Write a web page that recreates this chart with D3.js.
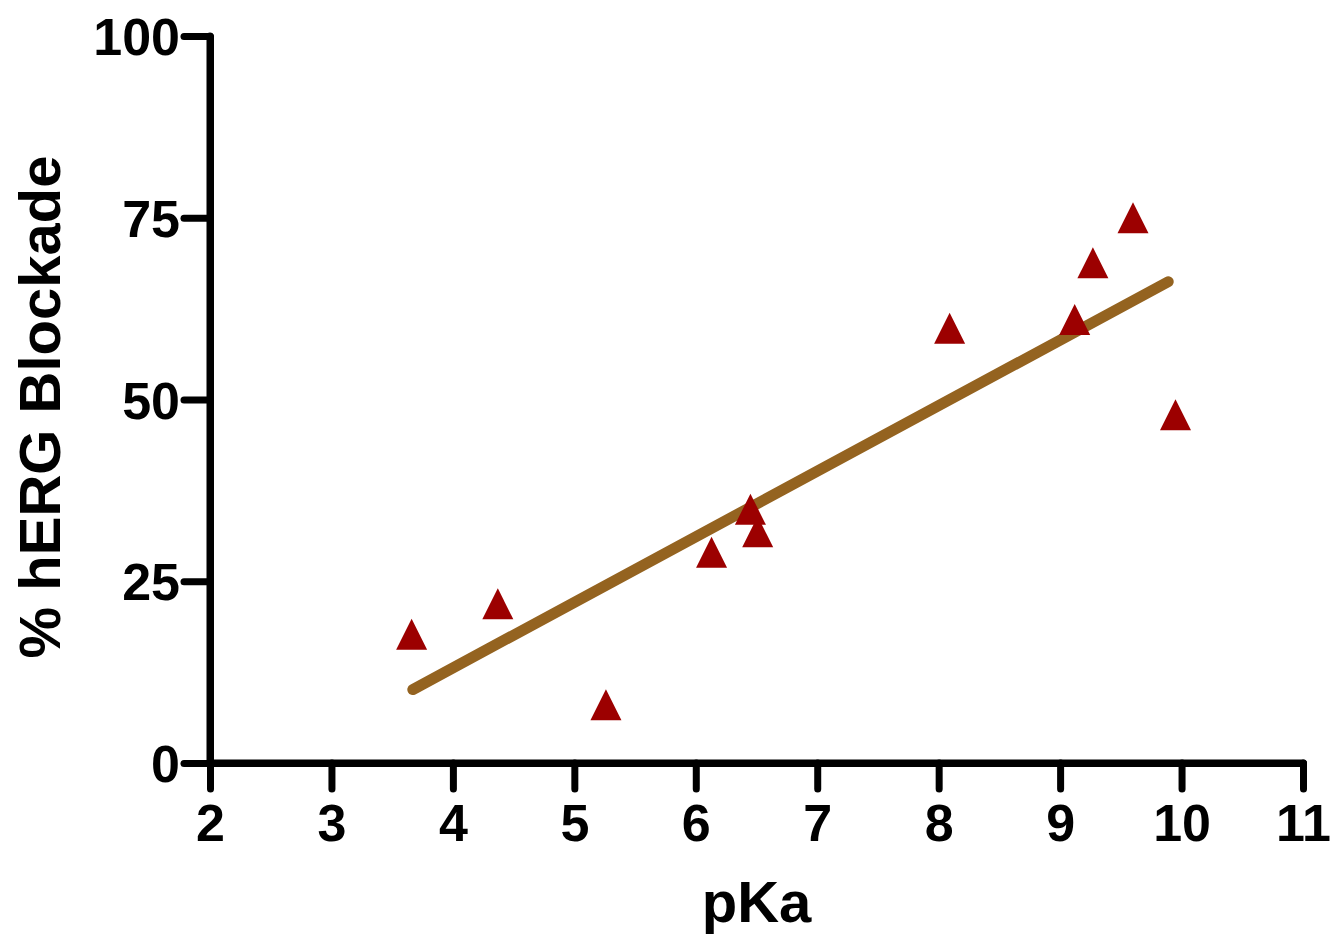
<!DOCTYPE html>
<html>
<head>
<meta charset="utf-8">
<script src="https://cdn.jsdelivr.net/npm/d3@7"></script>
<style>
  html, body { margin: 0; padding: 0; background: #fff; }
  svg { display: block; font-family: "Liberation Sans", Arial, sans-serif; font-weight: bold; }
</style>
</head>
<body>
<svg id="chart" width="1334" height="940"></svg>
<script>
// pKa vs % hERG blockade
const pKa      = [3.66, 4.37, 5.26, 6.13, 6.45, 6.51, 8.09, 9.12, 9.27, 9.60, 9.95];
const blockade = [17.7, 21.9, 8.0, 29.0, 34.9, 31.8, 59.8, 61.0, 68.8, 75.0, 47.9];
const fitLine  = [[3.67, 10.1], [9.89, 66.2]];   // regression line endpoints
const xTicks = [2, 3, 4, 5, 6, 7, 8, 9, 10, 11];
const yTicks = [0, 25, 50, 75, 100];

const margin = { left: 210, top: 36, right: 31, bottom: 177 };
const W = 1334, H = 940;
const innerW = W - margin.left - margin.right;
const innerH = H - margin.top - margin.bottom;

const svg = d3.select("#chart");
const g = svg.append("g").attr("transform", `translate(${margin.left},${margin.top})`);

const x = d3.scaleLinear().domain([2, 11]).range([0, innerW]);
const y = d3.scaleLinear().domain([0, 100]).range([innerH, 0]);

// Axes
const axisStroke = 7;
const xAxis = g.append("g")
  .attr("transform", `translate(0,${innerH})`)
  .call(d3.axisBottom(x).tickValues(xTicks).tickSize(26).tickPadding(15).tickSizeOuter(0));
const yAxis = g.append("g")
  .call(d3.axisLeft(y).tickValues(yTicks).tickSize(26).tickPadding(4).tickSizeOuter(0));

[xAxis, yAxis].forEach(ax => {
  ax.select(".domain").attr("stroke", "#000").attr("stroke-width", axisStroke)
    .attr("stroke-linecap", "round");
  ax.selectAll(".tick line").attr("stroke", "#000").attr("stroke-width", axisStroke)
    .attr("stroke-linecap", "round");
  ax.selectAll(".tick text").attr("fill", "#000")
    .style("font-size", "52px").style("font-weight", "bold")
    .style("font-family", "'Liberation Sans', Arial, sans-serif");
});
xAxis.selectAll(".tick text").attr("dy", "0.71em");
yAxis.selectAll(".tick text").attr("dy", "0.36em");

// join the axis corners so the outer line looks continuous
g.append("path")
  .attr("d", `M${x(11)},${innerH}H0V0`)
  .attr("fill", "none").attr("stroke", "#000").attr("stroke-width", axisStroke)
  .attr("stroke-linejoin", "round").attr("stroke-linecap", "round");

// Regression line
g.append("path")
  .datum(fitLine)
  .attr("fill", "none")
  .attr("stroke", "#946320")
  .attr("stroke-width", 11)
  .attr("stroke-linecap", "round")
  .attr("d", d3.line().x(d => x(d[0])).y(d => y(d[1])));

// Triangle markers (as wide as they are tall, like the original)
const triangle = {
  draw(ctx, size) {
    const h = Math.sqrt(size);
    ctx.moveTo(0, -h / 2);
    ctx.lineTo(h / 2, h / 2);
    ctx.lineTo(-h / 2, h / 2);
    ctx.closePath();
  }
};
const data = pKa.map((v, i) => ({ pKa: v, b: blockade[i] }));
g.selectAll("path.pt")
  .data(data)
  .join("path")
  .attr("class", "pt")
  .attr("d", d3.symbol().type(triangle).size(31 * 31))
  .attr("transform", d => `translate(${x(d.pKa)},${y(d.b)})`)
  .attr("fill", "#9c0000");

// Axis titles
svg.append("text")
  .attr("x", margin.left + x(6.5))
  .attr("y", 922)
  .attr("text-anchor", "middle")
  .style("font-size", "58px")
  .text("pKa");

svg.append("text")
  .attr("transform", `translate(60,${407}) rotate(-90)`)
  .attr("text-anchor", "middle")
  .style("font-size", "58px")
  .text("% hERG Blockade");
</script>
</body>
</html>
